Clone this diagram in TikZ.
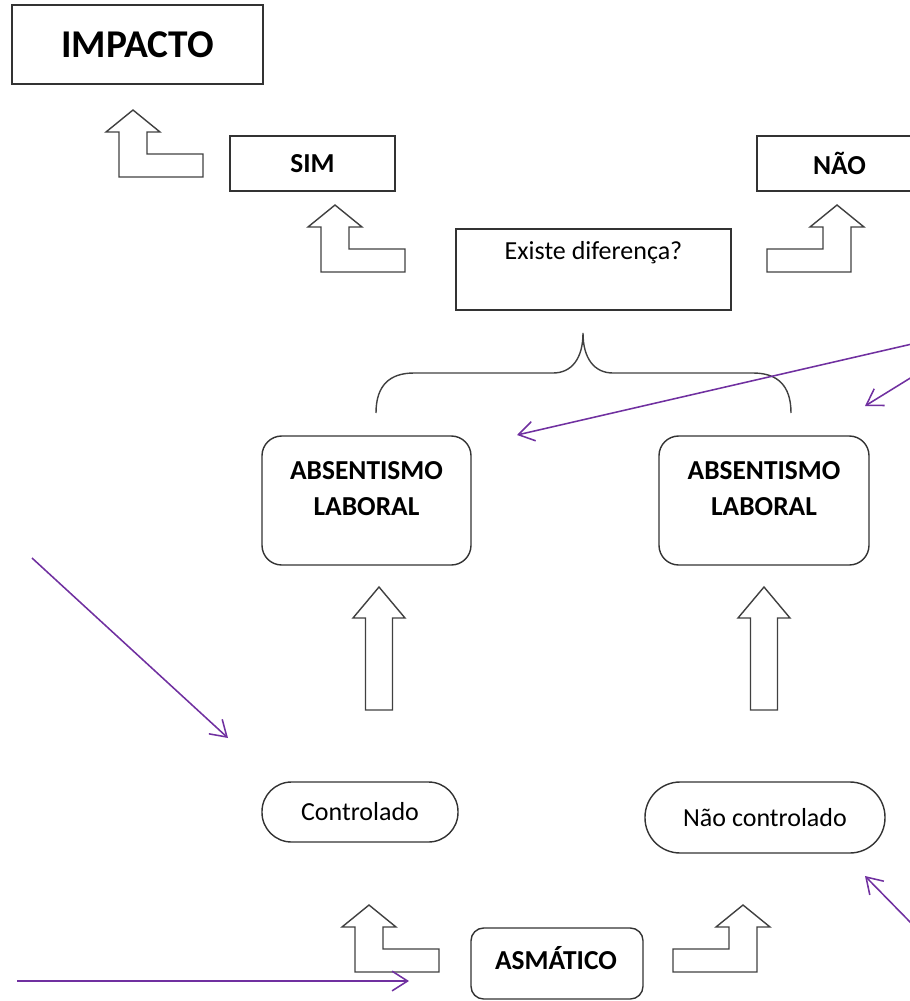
\documentclass[tikz,border=0pt]{standalone}
\usepackage{fontspec}
\setmainfont{Carlito}
\usetikzlibrary{arrows.meta}
\definecolor{mpurple}{RGB}{112,48,160}
\tikzset{
  box/.style={draw=black!80, line width=1pt, inner sep=0pt},
  rbox/.style={box, rounded corners=14pt},
  blockarrow/.style={draw=black!75, line width=1pt, line join=miter},
  note/.style={draw=mpurple, line width=1.1pt, -{Straight Barb[length=11pt,width=14pt]}},
  bfont/.style={font=\bfseries\fontsize{19.5}{26}\selectfont, align=center},
  nfont/.style={font=\fontsize{18.5}{22}\selectfont}
}

\begin{document}
\begin{tikzpicture}[x=0.025cm, y=-0.025cm]
\def\px{0.025cm}
\def\bentarrow{\draw[blockarrow] (0,0) -- (27,22) -- (14,22) -- (14,44) -- (70,44) -- (70,67) -- (-14,67) -- (-14,22) -- (-27,22) -- cycle;}
\def\tallarrow{\draw[blockarrow] (0,0) -- (26,31) -- (13.5,31) -- (13.5,123) -- (-13.5,123) -- (-13.5,31) -- (-26,31) -- cycle;}
\useasboundingbox (0,0) rectangle (909,1001);

%top row
\node[box, minimum width=251*\px, minimum height=79*\px, font=\bfseries\fontsize{28}{32}\selectfont] (impacto) at (137.5,44.5) {IMPACTO};
\node[box, bfont, minimum width=165*\px, minimum height=55*\px] (sim) at (312.5,163.5) {SIM};
\node[box, bfont, minimum width=165*\px, minimum height=55*\px] (nao) at (839.5,163.5) {NÃO};

%question
\node[box, minimum width=275*\px, minimum height=81*\px] (existe) at (593.5,269.5) {};
\node[nfont] (existet) at (593.5,253) {Existe diferença?};

%bent arrows up
\begin{scope}[shift={(133,110)}]
\bentarrow
\end{scope}
\begin{scope}[shift={(335,205)}]
\bentarrow
\end{scope}
\begin{scope}[shift={(837,205)}, xscale=-1]
\bentarrow
\end{scope}

%brace
\draw[blockarrow] (376,413) .. controls (376,385) and (390,373) .. (414,373) -- (553,373)
  .. controls (572,373) and (583,358) .. (583,333)
  .. controls (583,358) and (594,373) .. (613,373) -- (753,373)
  .. controls (777,373) and (791,385) .. (791,413);

%absentismo
\node[rbox, minimum width=209*\px, minimum height=129*\px] (abs1) at (366.5,500.5) {};
\node[bfont] (abs1t) at (366.5,488.5) {ABSENTISMO\\LABORAL};
\node[rbox, minimum width=210*\px, minimum height=129*\px] (abs2) at (764,500.5) {};
\node[bfont] (abs2t) at (764,488.5) {ABSENTISMO\\LABORAL};

\begin{scope}[shift={(379,587)}]
\tallarrow
\end{scope}
\begin{scope}[shift={(764,587)}]
\tallarrow
\end{scope}

%controlado / nao controlado
\node[box, rounded corners=21pt, minimum width=196*\px, minimum height=60*\px, nfont] (ctrl) at (360,812) {Controlado};
\node[box, rounded corners=25pt, minimum width=240*\px, minimum height=71*\px, nfont] (nctrl) at (765,817.5) {Não controlado};

%asmatico
\node[rbox, rounded corners=9pt, minimum width=172*\px, minimum height=71*\px] (asm) at (557,963.5) {};
\node[bfont] (asmt) at (556,958) {ASMÁTICO};
\begin{scope}[shift={(369,905)}]
\bentarrow
\end{scope}
\begin{scope}[shift={(743,905)}, xscale=-1]
\bentarrow
\end{scope}

%purple notes
\coordinate (p1s) at (912,344);
\coordinate (p1e) at (517,435);
\coordinate (p2s) at (912,377);
\coordinate (p2e) at (865,406);
\coordinate (p3s) at (32,558);
\coordinate (p3e) at (228,738);
\coordinate (p4s) at (17,981);
\coordinate (p4e) at (409,981);
\coordinate (p5s) at (912,924);
\coordinate (p5e) at (865,876);
\draw[note] (p1s) -- (p1e);
\draw[note] (p2s) -- (p2e);
\draw[note] (p3s) -- (p3e);
\draw[note] (p4s) -- (p4e);
\draw[note] (p5s) -- (p5e);

\end{tikzpicture}
\end{document}
